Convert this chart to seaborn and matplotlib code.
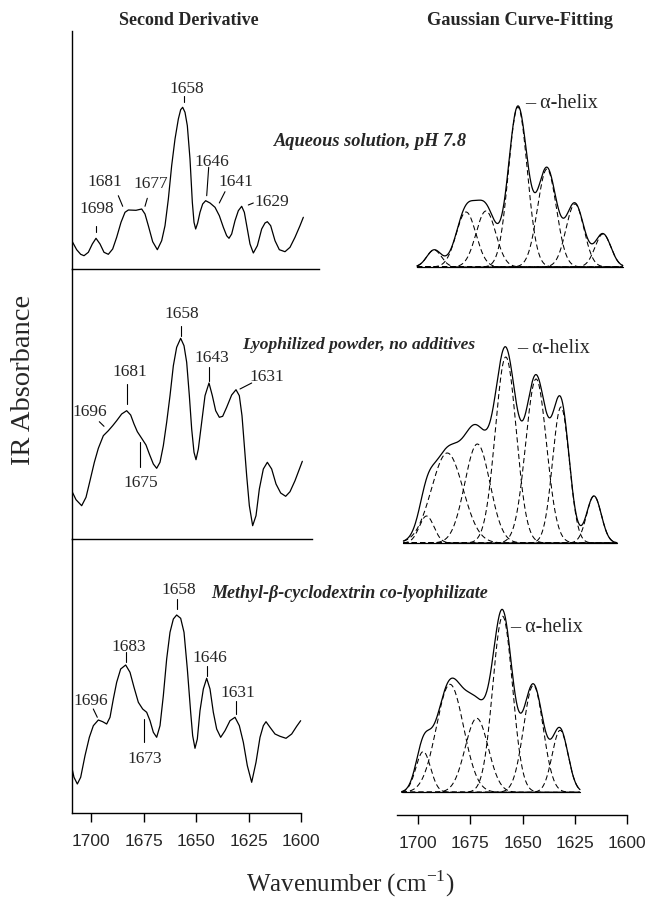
import numpy as np
import matplotlib
matplotlib.use("Agg")
import matplotlib.pyplot as plt
import seaborn as sns
import pandas as pd
from matplotlib.lines import Line2D

# ---------------- data ----------------
# Second-derivative traces (wavenumber in cm-1, arbitrary units)
sd_aq_wn = [1708.89, 1706.83, 1704.92, 1703.33, 1701.27, 1699.37, 1697.62, 1695.71, 1693.81, 1691.75,
            1689.68, 1687.78, 1685.71, 1683.81, 1682.22, 1678.57, 1675.87, 1674.29, 1672.70, 1670.63,
            1668.41, 1666.35, 1664.76, 1663.17, 1661.59, 1660.00, 1658.41, 1657.30, 1656.35, 1655.24,
            1654.13, 1652.86, 1651.75, 1650.95, 1650.16, 1649.21, 1648.10, 1646.83, 1645.40, 1643.33,
            1640.95, 1638.89, 1636.98, 1635.40, 1634.29, 1633.02, 1631.43, 1629.84, 1628.25, 1626.98,
            1625.56, 1624.29, 1622.70, 1620.79, 1618.73, 1617.14, 1616.03, 1614.44, 1612.38, 1610.32,
            1607.62, 1605.24, 1602.86, 1600.48, 1598.89]
sd_aq_y = [27.3, 19.3, 14.7, 13.3, 16.7, 25.0, 30.7, 25.0, 16.7, 14.7,
           20.0, 31.7, 46.7, 56.7, 59.0, 58.7, 60.0, 55.0, 43.3, 27.3,
           19.3, 28.3, 43.3, 70.0, 103.3, 130.0, 150.0, 159.3, 161.7, 156.7,
           143.3, 110.0, 66.7, 46.7, 40.0, 46.0, 56.7, 65.0, 68.3, 66.0,
           61.7, 53.3, 41.7, 33.3, 30.7, 35.0, 48.3, 58.3, 62.7, 56.7,
           40.0, 25.0, 16.0, 23.3, 40.0, 46.0, 47.3, 43.3, 28.3, 19.3,
           17.3, 21.7, 31.7, 43.3, 51.7]

sd_ly_wn = [1709.21, 1707.14, 1704.44, 1702.38, 1700.48, 1698.41, 1696.51, 1694.13, 1691.75, 1689.68,
            1687.78, 1685.40, 1683.02, 1681.11, 1679.52, 1677.94, 1675.87, 1673.81, 1672.22, 1670.32,
            1668.73, 1667.14, 1665.56, 1663.97, 1662.38, 1660.79, 1659.21, 1657.30, 1655.71, 1654.44,
            1653.17, 1652.06, 1650.95, 1650.00, 1648.89, 1647.30, 1645.71, 1643.81, 1642.22, 1640.63,
            1638.89, 1637.30, 1635.40, 1633.02, 1630.95, 1629.37, 1628.10, 1626.98, 1625.87, 1624.60,
            1623.02, 1621.43, 1619.84, 1617.94, 1616.03, 1613.97, 1611.90, 1609.68, 1607.30, 1605.24,
            1602.86, 1599.37]
sd_ly_y = [48.3, 39.3, 33.3, 41.7, 58.3, 76.7, 90.7, 103.3, 108.3, 113.3,
           118.3, 125.0, 128.3, 124.0, 115.0, 107.3, 100.7, 94.0, 85.0, 75.0,
           70.7, 76.7, 93.3, 116.7, 143.3, 173.3, 191.7, 200.7, 193.3, 176.7,
           143.3, 110.0, 86.7, 79.3, 90.0, 116.7, 143.3, 156.0, 143.3, 128.3,
           121.7, 122.7, 131.7, 144.0, 149.3, 143.3, 123.3, 93.3, 63.3, 33.3,
           13.3, 23.3, 50.0, 70.0, 76.7, 70.0, 55.0, 46.0, 42.7, 47.3,
           58.3, 77.7]

sd_cd_wn = [1709.68, 1708.10, 1706.51, 1704.92, 1702.86, 1700.79, 1698.89, 1696.51, 1694.44, 1692.54,
            1690.95, 1689.37, 1687.78, 1685.87, 1683.49, 1681.43, 1679.52, 1677.46, 1675.40, 1673.49,
            1671.90, 1670.32, 1668.73, 1667.14, 1665.56, 1663.97, 1662.38, 1660.79, 1659.21, 1657.30,
            1655.71, 1654.13, 1652.54, 1651.59, 1650.48, 1649.37, 1648.10, 1646.51, 1644.92, 1643.33,
            1641.75, 1640.16, 1638.25, 1636.19, 1633.81, 1631.43, 1629.37, 1627.46, 1625.56, 1623.49,
            1621.43, 1619.52, 1617.94, 1616.67, 1614.76, 1612.38, 1610.00, 1607.14, 1604.44, 1602.06,
            1600.16]
sd_cd_y = [50.7, 35.7, 29.0, 35.7, 57.3, 75.7, 87.3, 93.0, 91.3, 89.0,
           95.7, 114.0, 130.7, 144.0, 148.0, 140.7, 125.7, 110.7, 104.0, 100.7,
           92.3, 80.7, 75.7, 87.3, 117.3, 154.0, 180.7, 194.0, 198.0, 194.7,
           180.7, 144.0, 100.7, 77.3, 64.7, 74.0, 102.3, 124.0, 134.7, 124.0,
           100.7, 84.0, 75.7, 82.3, 92.3, 95.7, 87.3, 70.7, 47.3, 30.7,
           50.7, 75.7, 87.3, 91.3, 85.7, 79.0, 76.7, 74.7, 79.0, 86.7,
           92.3]

# Gaussian curve-fitting components: centre (cm-1), height, sigma (cm-1)
g_aq_c = [1692.3, 1677.0, 1667.5, 1652.2, 1638.3, 1624.9, 1611.5]
g_aq_h = [17, 55, 56, 160, 98, 63, 33]
g_aq_s = [3.5, 4.7, 4.7, 4.5, 4.5, 4.3, 3.8]
g_aq_range = [1700.5, 1602.0]

g_ly_c = [1695.9, 1686.0, 1671.6, 1658.0, 1643.5, 1631.6, 1615.8]
g_ly_h = [27, 90, 99, 186, 164, 136, 47]
g_ly_s = [3.5, 7.5, 6.0, 5.0, 5.0, 4.0, 3.5]
g_ly_range = [1707.0, 1604.8]

g_cd_c = [1697.5, 1684.7, 1671.9, 1659.5, 1644.8, 1632.0]
g_cd_h = [40.7, 108, 74, 176, 107, 62]
g_cd_s = [3.5, 6.5, 5.5, 4.7, 4.7, 3.8]
g_cd_range = [1707.8, 1622.5]

sample_labels = ["Aqueous solution, pH 7.8", "Lyophilized powder, no additives",
                 "Methyl-\u03b2-cyclodextrin co-lyophilizate"]
peak_labels_aq = ["1698", "1681", "1677", "1658", "1646", "1641", "1629"]
peak_labels_ly = ["1696", "1681", "1675", "1658", "1643", "1631"]
peak_labels_cd = ["1696", "1683", "1673", "1658", "1646", "1631"]
x_ticks = [1700, 1675, 1650, 1625, 1600]

# ---------------- style ----------------
sns.set_style("white")
plt.rcParams['font.family'] = ['Liberation Serif', 'DejaVu Serif']
plt.rcParams['mathtext.fontset'] = 'custom'
plt.rcParams['mathtext.rm'] = 'Liberation Serif'

W, H = 647, 903
fig = plt.figure(figsize=(W / 100, H / 100), dpi=100)


def fx(px):
    return px / W


def fy(py):
    return 1 - py / H


def box(l, t, r, b):
    return [fx(l), fy(b), (r - l) / W, (b - t) / H]


LW = 0.9
LX = (1709.05, 1591.43)
RX = (1710.05, 1600.0)

# ---------------- left column ----------------
left_specs = [
    (box(72, 32, 319, 270), 238, sd_aq_wn, sd_aq_y, 1591.43),
    (box(72, 270, 319, 540), 270, sd_ly_wn, sd_ly_y, 1594.8),
    (box(72, 540, 319, 814), 274, sd_cd_wn, sd_cd_y, 1600.0),
]
left_axes = []
for i, (rect, ytop, xs, ys, xend) in enumerate(left_specs):
    ax = fig.add_axes(rect)
    ax.set_facecolor('none')
    df = pd.DataFrame({"wn": xs, "y": ys})
    sns.lineplot(data=df, x="wn", y="y", ax=ax, color="black", lw=LW,
                 sort=False, estimator=None, solid_joinstyle="round")
    ax.set_xlim(*LX)
    ax.set_ylim(0, ytop)
    for s in ("top", "right"):
        ax.spines[s].set_visible(False)
    for s in ("left", "bottom"):
        ax.spines[s].set_color("black")
        ax.spines[s].set_linewidth(1.0)
    ax.spines["bottom"].set_bounds(LX[0], xend)
    ax.set_yticks([])
    ax.set_xlabel("")
    ax.set_ylabel("")
    if i < 2:
        ax.set_xticks([])
    left_axes.append(ax)

# ---------------- right column ----------------
right_specs = [
    (box(397, 32, 627, 270), (-2, 236), g_aq_c, g_aq_h, g_aq_s, g_aq_range),
    (box(397, 270, 627, 548), (-4, 274), g_ly_c, g_ly_h, g_ly_s, g_ly_range),
    (box(397, 548, 627, 816), (-22.7, 245.3), g_cd_c, g_cd_h, g_cd_s, g_cd_range),
]
right_axes = []
for i, (rect, ylim, cs, hs, ss, rng) in enumerate(right_specs):
    ax = fig.add_axes(rect)
    ax.set_facecolor('none')
    grid = np.linspace(rng[0], rng[1], 500)
    comps = [h * np.exp(-(grid - c) ** 2 / (2 * s ** 2)) for c, h, s in zip(cs, hs, ss)]
    for comp in comps:
        sns.lineplot(x=grid, y=comp, ax=ax, color="black", lw=0.75,
                     sort=False, estimator=None)
        ax.lines[-1].set_dashes([5, 3])
    total = np.sum(comps, axis=0)
    sns.lineplot(x=grid, y=total, ax=ax, color="black", lw=LW,
                 sort=False, estimator=None)
    sns.lineplot(x=[rng[0], rng[1]], y=[0, 0], ax=ax, color="black", lw=0.9,
                 sort=False, estimator=None)
    ax.set_xlim(*RX)
    ax.set_ylim(*ylim)
    for s in ("top", "right", "left"):
        ax.spines[s].set_visible(False)
    ax.set_yticks([])
    ax.set_xlabel("")
    ax.set_ylabel("")
    if i < 2:
        ax.spines["bottom"].set_visible(False)
        ax.set_xticks([])
    else:
        ax.spines["bottom"].set_color("black")
        ax.spines["bottom"].set_linewidth(1.0)
    right_axes.append(ax)

for ax in (left_axes[2], right_axes[2]):
    ax.set_xticks(x_ticks)
    ax.set_xticklabels([str(t) for t in x_ticks], family="Liberation Sans", fontsize=12.5)
    ax.tick_params(axis="x", direction="out", length=6.5, width=1.0, color="black",
                   pad=8, bottom=True)

# ---------------- text ----------------
fig.text(fx(189.3), fy(20.7), "Second Derivative", ha="center", va="center",
         fontsize=13, fontweight="bold")
fig.text(fx(520), fy(20.7), "Gaussian Curve-Fitting", ha="center", va="center",
         fontsize=13.2, fontweight="bold")

sample_pos = [(274.0, 142.0, 13.2), (241.7, 345.0, 12.5), (211.7, 593.3, 13.0)]
for lab, (px, py, fs) in zip(sample_labels, sample_pos):
    fig.text(fx(px), fy(py), lab, ha="left", va="center", fontsize=fs,
             fontweight="bold", style="italic")

helix_pos = [(525, 104), (516.7, 348.3), (510, 627.3)]
for px, py in helix_pos:
    fig.text(fx(px), fy(py), "\u2013 \u03b1-helix", ha="left", va="center", fontsize=14.5)

# peak labels: text centre and leader line (pixel layout)
ann_aq = [((96.7, 209.3), [(96, 226.7), (96, 233.3)]),
          ((105, 181.7), [(118.3, 196.7), (122.7, 207.3)]),
          ((150.7, 184.3), [(147.3, 199.3), (145, 207.3)]),
          ((186.7, 89.3), [(184, 96.7), (184, 103.3)]),
          ((211.7, 161.7), [(208.7, 168.3), (206.7, 196.7)]),
          ((236, 181.7), [(225, 192.7), (219.3, 204)]),
          ((272.3, 201.7), [(248.3, 206), (253.3, 204)])]
ann_ly = [((90, 411.7), [(99.3, 422.7), (104, 427.3)]),
          ((130, 371.7), [(127.3, 385), (127.3, 405)]),
          ((140.7, 483.3), [(140, 443.3), (140, 468.3)]),
          ((181.7, 314), [(180.7, 326.7), (180.7, 336.7)]),
          ((211.7, 358.3), [(209, 368.3), (209, 381.7)]),
          ((266.7, 377.3), [(251.7, 384), (240, 390)])]
ann_cd = [((90.7, 700.7), [(93.3, 710), (97.3, 718.3)]),
          ((128.3, 646.7), [(125.7, 653.3), (125.7, 663.3)]),
          ((145, 759), [(144.3, 720), (144.3, 743.3)]),
          ((178.3, 590), [(177.3, 600), (177.3, 610)]),
          ((210, 657.7), [(206.7, 666.7), (206.7, 676.7)]),
          ((238.3, 692.7), [(236, 701.7), (236, 715)])]

for labels, anns in ((peak_labels_aq, ann_aq), (peak_labels_ly, ann_ly), (peak_labels_cd, ann_cd)):
    for lab, ((tx, ty), pts) in zip(labels, anns):
        fig.text(fx(tx), fy(ty), lab, ha="center", va="center", fontsize=12.5)
        fig.add_artist(Line2D([fx(p[0]) for p in pts], [fy(p[1]) for p in pts],
                              color="black", lw=0.8, transform=fig.transFigure))

fig.text(fx(23.3), fy(380), "IR Absorbance", ha="center", va="center",
         rotation=90, fontsize=20.5)
fig.text(fx(350), fy(884), r"Wavenumber (cm$^{\mathregular{-1}}$)", ha="center",
         va="center", fontsize=18)

fig.savefig("out.png", dpi=100)
